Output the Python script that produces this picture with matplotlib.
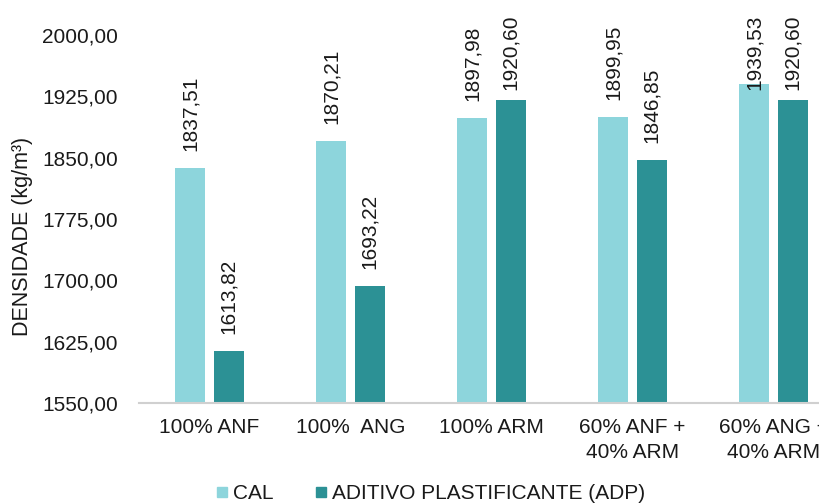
import matplotlib.pyplot as plt
from matplotlib.lines import Line2D
import numpy as np

plt.rcParams['font.family'] = ['Liberation Sans', 'DejaVu Sans']

categories = ['100% ANF', '100%  ANG', '100% ARM', '60% ANF +\n40% ARM', '60% ANG +\n40% ARM']
cal = [1837.51, 1870.21, 1897.98, 1899.95, 1939.53]
adp = [1613.82, 1693.22, 1920.60, 1846.85, 1920.60]
series_names = ['CAL', 'ADITIVO PLASTIFICANTE (ADP)']
yticks = [1550, 1625, 1700, 1775, 1850, 1925, 2000]

COL_CAL = '#8DD5DC'
COL_ADP = '#2C9195'
TXT = '#1a1a1a'


def br(v):
    return ('%.2f' % v).replace('.', ',')


fig = plt.figure(figsize=(8.2, 5.04), dpi=100)
ax = fig.add_axes([139/820, 101/504, 705/820, 368/504])

x = np.arange(len(categories))
w = 0.215
off = 0.137
b1 = ax.bar(x - off, cal, w, color=COL_CAL)
b2 = ax.bar(x + off, adp, w, color=COL_ADP)

ax.set_xlim(-0.5, len(categories) - 0.5)
ax.set_ylim(1550, 2000)
ax.set_yticks(yticks)
ax.set_yticklabels([br(v) for v in yticks], fontsize=15)
ax.set_xticks(x)
ax.set_xticklabels(categories, fontsize=15, linespacing=1.36)
ax.tick_params(axis='both', length=0, colors=TXT)
ax.tick_params(axis='x', pad=11)
ax.tick_params(axis='y', pad=15)

for s in ['top', 'right', 'left']:
    ax.spines[s].set_visible(False)
ax.spines['bottom'].set_color('#D0D0D0')
ax.spines['bottom'].set_linewidth(1.5)

fig.text(23/820, 1 - 236/504, 'DENSIDADE (kg/m³)', rotation=90, fontsize=15.5,
         color=TXT, ha='center', va='center')

# value labels above bars, pushed down if they would leave the chart area
labels = []
for bars in (b1, b2):
    for r in bars:
        h = r.get_height()
        t = ax.annotate(br(h), (r.get_x() + r.get_width()/2, h), xytext=(0, 12.2),
                        textcoords='offset points', rotation=90, ha='center',
                        va='bottom', fontsize=15, color=TXT, annotation_clip=False)
        labels.append(t)

fig.canvas.draw()
r = fig.canvas.get_renderer()
top_limit = fig.bbox.height - 15
for t in labels:
    bb = t.get_window_extent(r)
    if bb.y1 > top_limit:
        dx, dy = t.xyann
        t.xyann = (dx, dy - (bb.y1 - top_limit) * 72 / fig.dpi)

handles = [Line2D([], [], marker='s', linestyle='none', markersize=7, color=COL_CAL),
           Line2D([], [], marker='s', linestyle='none', markersize=7, color=COL_ADP)]
fig.legend(handles, series_names, loc='lower center', bbox_to_anchor=(431/820, -0.036),
           ncol=2, frameon=False, fontsize=15, handlelength=0.5, handletextpad=0.3,
           columnspacing=2.0, labelcolor=TXT)

fig.savefig('out.png', dpi=100)
